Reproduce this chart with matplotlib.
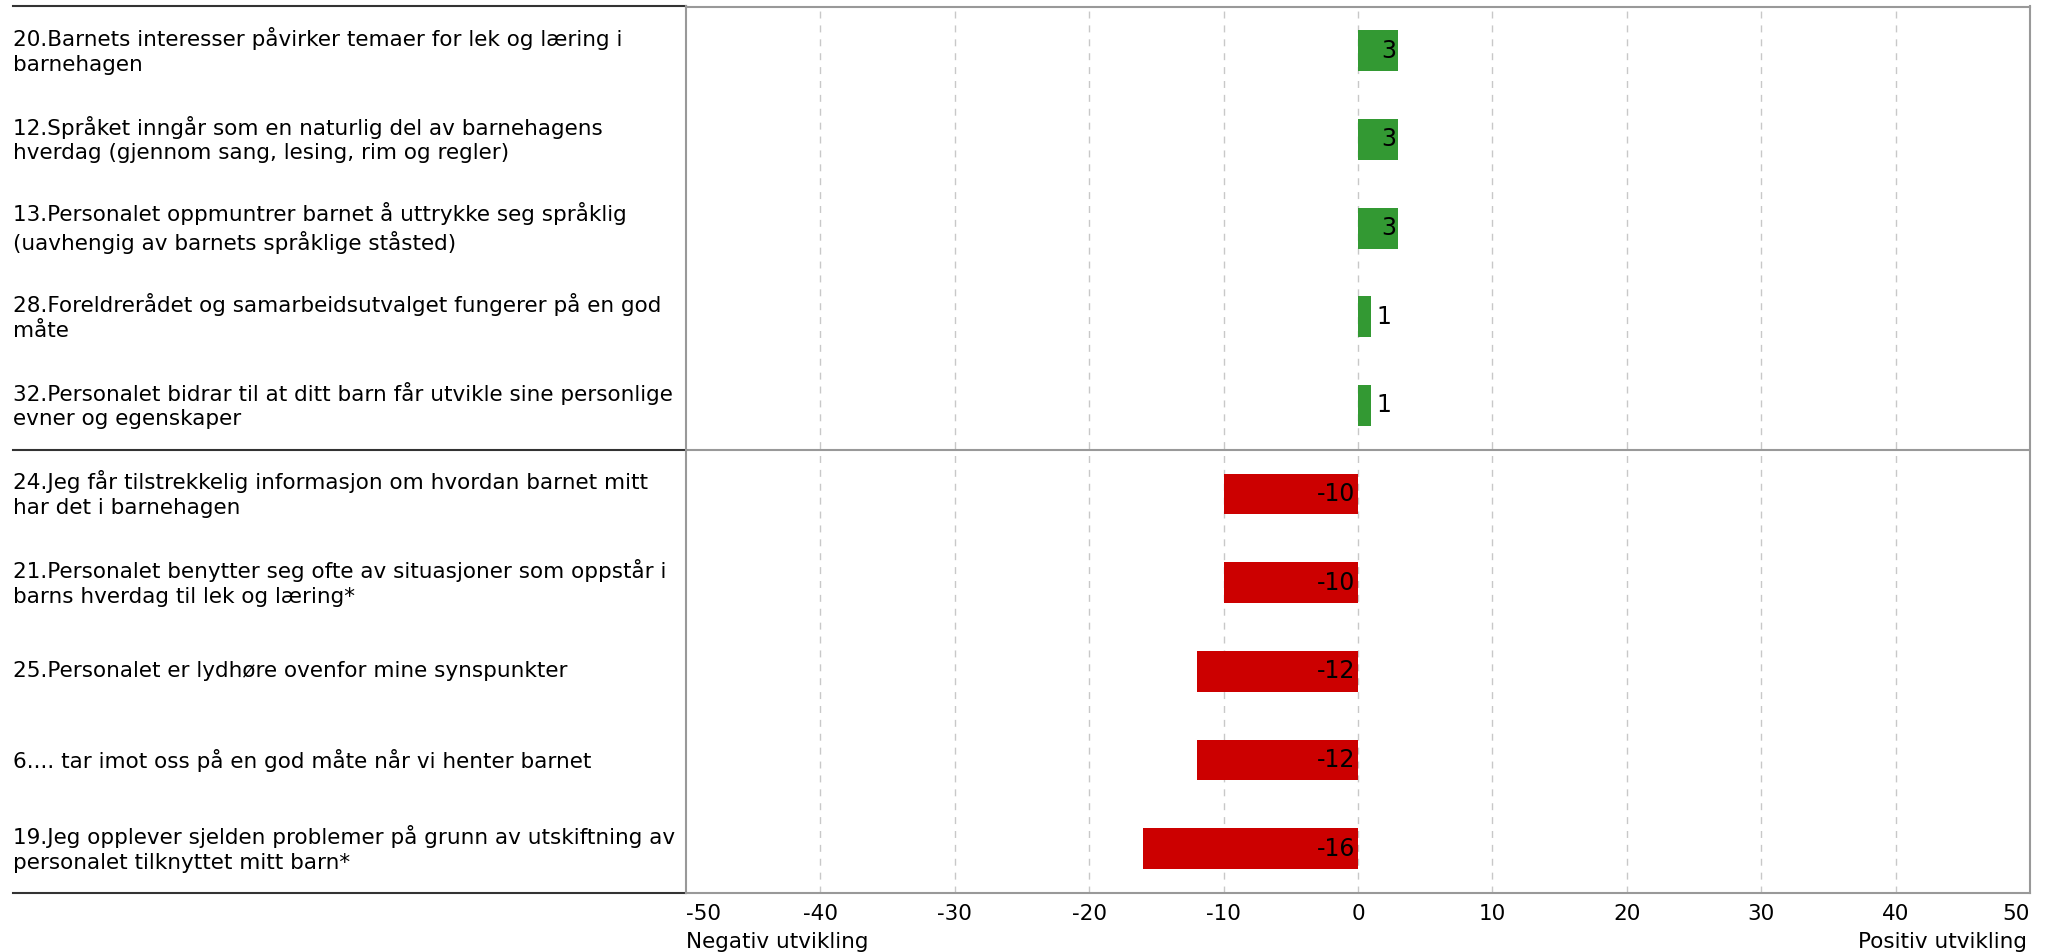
import matplotlib.pyplot as plt
from matplotlib.lines import Line2D

# questions, top to bottom
labels = [
    "20.Barnets interesser påvirker temaer for lek og læring i\nbarnehagen",
    "12.Språket inngår som en naturlig del av barnehagens\nhverdag (gjennom sang, lesing, rim og regler)",
    "13.Personalet oppmuntrer barnet å uttrykke seg språklig\n(uavhengig av barnets språklige ståsted)",
    "28.Foreldrerådet og samarbeidsutvalget fungerer på en god\nmåte",
    "32.Personalet bidrar til at ditt barn får utvikle sine personlige\nevner og egenskaper",
    "24.Jeg får tilstrekkelig informasjon om hvordan barnet mitt\nhar det i barnehagen",
    "21.Personalet benytter seg ofte av situasjoner som oppstår i\nbarns hverdag til lek og læring*",
    "25.Personalet er lydhøre ovenfor mine synspunkter",
    "6.... tar imot oss på en god måte når vi henter barnet",
    "19.Jeg opplever sjelden problemer på grunn av utskiftning av\npersonalet tilknyttet mitt barn*",
]
values = [3, 3, 3, 1, 1, -10, -10, -12, -12, -16]
ticks = [-50, -40, -30, -20, -10, 0, 10, 20, 30, 40, 50]

GREEN = "#339933"
RED = "#cc0000"
FRAME = "#999999"
DARK = "#333333"
FS = 15.5

plt.rcParams['font.family'] = ['DejaVu Sans']
W, H = 2049, 952
fig = plt.figure(figsize=(W / 100, H / 100), dpi=100)
left, right, top, bottom = 686, 2030, 6.5, 893
ax = fig.add_axes([left / W, 1 - bottom / H, (right - left) / W, (bottom - top) / H])

ypos = list(range(len(values)))
colors = [GREEN if v > 0 else RED for v in values]
ax.barh(ypos, values, height=0.46, color=colors, zorder=3)

for y, v in zip(ypos, values):
    if v < 0:
        ax.text(-0.2, y, str(v), ha='right', va='center', fontsize=17, zorder=4)
    elif v >= 3:
        ax.text(v - 0.15, y, str(v), ha='right', va='center', fontsize=17, zorder=4)
    else:
        ax.text(v + 0.35, y, str(v), ha='left', va='center', fontsize=17, zorder=4)

ax.set_xlim(-50, 50)
ax.set_ylim(len(values) - 0.5, -0.5)
ax.set_xticks(ticks)
ax.set_xticklabels([str(t) for t in ticks], fontsize=FS)
ax.set_yticks([])
ax.tick_params(axis='x', length=0, pad=8)
tl = ax.get_xticklabels()
tl[0].set_horizontalalignment('left')
tl[-1].set_horizontalalignment('right')
for t in ticks[1:-1]:
    ax.axvline(t, color="#c8c8c8", linestyle=(0, (5, 5)), linewidth=1, zorder=1)

for s in ax.spines.values():
    s.set_color(FRAME)
    s.set_linewidth(1.5)
ax.axhline(4.5, color=FRAME, linewidth=1.5, zorder=2)

# label column
x0 = (13 - left) / (right - left)
trans = ax.get_yaxis_transform()
for y, lab in zip(ypos, labels):
    ax.text(x0, y, lab, transform=trans, ha='left', va='center', fontsize=FS, linespacing=1.3)
for yl in [-0.5, 4.5, len(values) - 0.5]:
    ax.add_line(Line2D([x0, 0], [yl, yl], transform=trans, color=DARK, linewidth=1.5, clip_on=False))

fig.text(left / W, 1 - 942 / H, "Negativ utvikling", ha='left', va='center', fontsize=FS)
fig.text(2027 / W, 1 - 942 / H, "Positiv utvikling", ha='right', va='center', fontsize=FS)

fig.savefig("out.png", dpi=100)
